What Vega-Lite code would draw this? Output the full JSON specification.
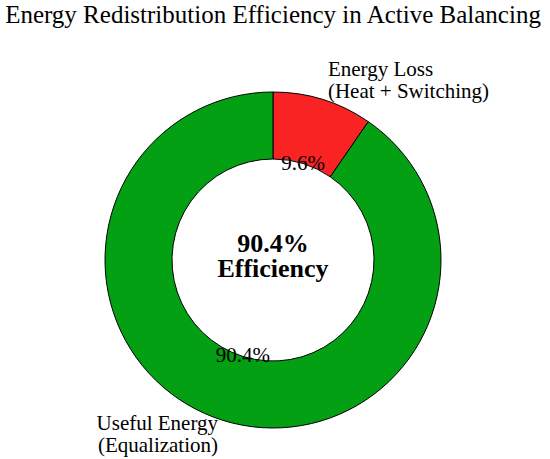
{
  "$schema": "https://vega.github.io/schema/vega-lite/v6.json",
  "autosize": {"type": "none"},
  "width": 546,
  "height": 398,
  "padding": {"left": 0, "top": 61, "right": 4, "bottom": 0},
  "title": {
    "text": "Energy Redistribution Efficiency in Active Balancing",
    "font": "Liberation Serif",
    "fontSize": 25,
    "fontWeight": "normal",
    "color": "black",
    "anchor": "middle",
    "frame": "group",
    "baseline": "alphabetic",
    "offset": 11
  },
  "datasets": {
    "shares": [
      {"category": "Energy Loss", "label": "Energy Loss\n(Heat + Switching)", "value": 9.6, "pct": "9.6%"},
      {"category": "Useful Energy", "label": "Useful Energy\n(Equalization)", "value": 90.4, "pct": "90.4%"}
    ],
    "centre": [
      {"caption": "90.4%\nEfficiency"}
    ]
  },
  "layer": [
    {
      "data": {"name": "shares"},
      "mark": {"type": "arc", "innerRadius": 101, "outerRadius": 168, "stroke": "black", "strokeWidth": 1},
      "encoding": {
        "theta": {"field": "value", "type": "quantitative", "stack": true},
        "order": {"field": "category", "sort": "ascending"},
        "color": {
          "field": "category",
          "type": "nominal",
          "legend": null,
          "scale": {"domain": ["Energy Loss", "Useful Energy"], "range": ["#f92324", "#02a012"]}
        }
      }
    },
    {
      "data": {"name": "shares"},
      "mark": {"type": "text", "radius": 101, "font": "Liberation Serif", "fontSize": 21, "color": "black", "align": "center", "baseline": "middle"},
      "encoding": {
        "theta": {"field": "value", "type": "quantitative", "stack": true},
        "order": {"field": "category", "sort": "ascending"},
        "detail": {"field": "category"},
        "text": {"field": "pct"}
      }
    },
    {
      "data": {"name": "shares"},
      "mark": {"type": "text", "radius": 185, "font": "Liberation Serif", "fontSize": 21, "lineHeight": 22, "lineBreak": "\n", "color": "black", "align": "left", "baseline": "middle", "dy": -13},
      "encoding": {
        "theta": {"field": "value", "type": "quantitative", "stack": true},
        "order": {"field": "category", "sort": "ascending"},
        "detail": {"field": "category"},
        "text": {"condition": {"test": "datum.category === 'Energy Loss'", "field": "label"}, "value": ""}
      }
    },
    {
      "data": {"name": "shares"},
      "mark": {"type": "text", "radius": 185, "font": "Liberation Serif", "fontSize": 21, "lineHeight": 22, "lineBreak": "\n", "color": "black", "align": "right", "baseline": "middle", "dy": -13},
      "encoding": {
        "theta": {"field": "value", "type": "quantitative", "stack": true},
        "order": {"field": "category", "sort": "ascending"},
        "detail": {"field": "category"},
        "text": {"condition": {"test": "datum.category === 'Useful Energy'", "field": "label"}, "value": ""}
      }
    },
    {
      "data": {"name": "centre"},
      "mark": {"type": "text", "font": "Liberation Serif", "fontSize": 26, "fontWeight": "bold", "lineHeight": 25, "lineBreak": "\n", "color": "black", "align": "center", "baseline": "middle", "dy": -16},
      "encoding": {
        "text": {"field": "caption"}
      }
    }
  ],
  "config": {"view": {"stroke": null}}
}
